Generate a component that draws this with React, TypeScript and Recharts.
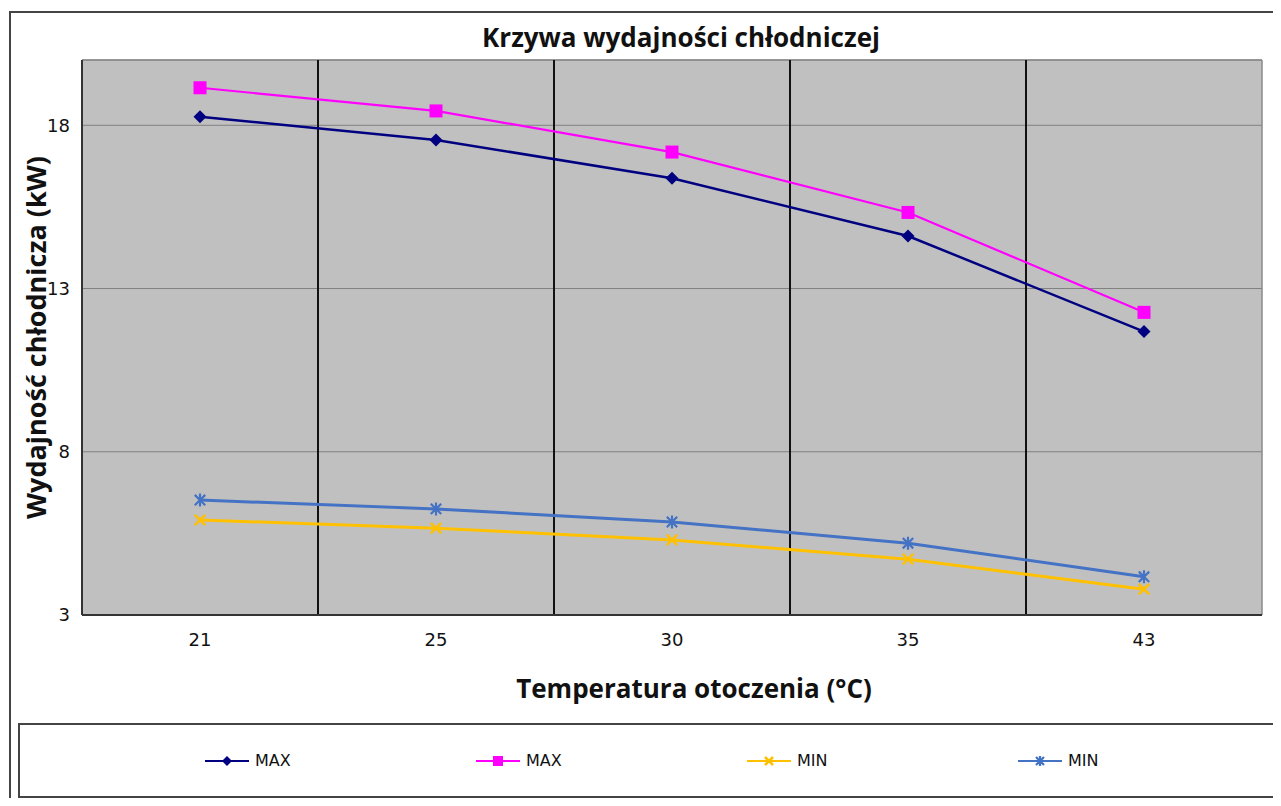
import React from 'react';
import { LineChart, Line, XAxis, YAxis, CartesianGrid, ReferenceLine } from 'recharts';

const categories = ['21', '25', '30', '35', '43'];
const maxNavy = [18.26, 17.55, 16.38, 14.61, 11.68];
const maxPink = [19.15, 18.44, 17.18, 15.33, 12.27];
const minYellow = [5.91, 5.66, 5.3, 4.71, 3.79];
const minBlue = [6.52, 6.25, 5.85, 5.2, 4.17];
const yTicks = [3, 8, 13, 18];
const yMin = 3;
const yMax = 20;

const titleText = 'Krzywa wydajności chłodniczej';
const xTitleText = 'Temperatura otoczenia (°C)';
const yTitleText = 'Wydajność chłodnicza (kW)';

type MarkerType = 'diamond' | 'square' | 'x' | 'star';

const series: { key: string; name: string; color: string; values: number[]; marker: MarkerType; width: number }[] = [
  { key: 'maxNavy', name: 'MAX', color: '#000080', values: maxNavy, marker: 'diamond', width: 2.5 },
  { key: 'maxPink', name: 'MAX', color: '#FF00FF', values: maxPink, marker: 'square', width: 2.2 },
  { key: 'minYellow', name: 'MIN', color: '#FFC000', values: minYellow, marker: 'x', width: 3 },
  { key: 'minBlue', name: 'MIN', color: '#4472C4', values: minBlue, marker: 'star', width: 3 },
];

const data = categories.map((c, k) => {
  const row: Record<string, number | string> = { i: k + 1, label: c };
  series.forEach((s) => {
    row[s.key] = s.values[k];
  });
  return row;
});

const boundaries = categories.slice(1).map((_, k) => k + 1.5);

function Marker({ type, cx, cy, color, r }: { type: MarkerType; cx: number; cy: number; color: string; r: number }) {
  if (type === 'diamond') {
    return <path d={`M${cx},${cy - r}L${cx + r},${cy}L${cx},${cy + r}L${cx - r},${cy}Z`} fill={color} />;
  }
  if (type === 'square') {
    return <rect x={cx - r} y={cy - r} width={2 * r} height={2 * r} fill={color} />;
  }
  if (type === 'x') {
    const a = r * 0.8;
    return (
      <path
        d={`M${cx - a},${cy - a}L${cx + a},${cy + a}M${cx - a},${cy + a}L${cx + a},${cy - a}`}
        stroke={color}
        strokeWidth={2.5}
        fill="none"
      />
    );
  }
  const a = r * 0.8;
  return (
    <path
      d={`M${cx - a},${cy - a}L${cx + a},${cy + a}M${cx - a},${cy + a}L${cx + a},${cy - a}M${cx},${cy - r}L${cx},${cy + r}`}
      stroke={color}
      strokeWidth={2.2}
      fill="none"
    />
  );
}

const tickStyle = { fill: '#111', fontSize: 18, fontFamily: 'DejaVu Sans' };
const titleFont = "'Open Sans', 'Noto Sans', sans-serif";

export default function App() {
  return (
    <div style={{ position: 'relative', width: 1265, height: 790 }}>
      <style>{'html{overflow:hidden;}'}</style>
      <div
        style={{
          position: 'absolute',
          left: 1,
          top: 3,
          width: 1272,
          height: 795,
          borderTop: '2px solid #444',
          borderLeft: '2px solid #444',
          boxSizing: 'border-box',
        }}
      />
      <div
        style={{
          position: 'absolute',
          left: 373,
          top: 16,
          width: 600,
          textAlign: 'center',
          fontFamily: titleFont,
          fontWeight: 700,
          fontSize: 26,
          lineHeight: 1,
          color: '#111',
          whiteSpace: 'nowrap',
        }}
      >
        {titleText}
      </div>
      <div style={{ position: 'absolute', left: 0, top: 0 }}>
        <LineChart width={1273} height={798} data={data} margin={{ top: 52, right: 19, bottom: 151, left: 0 }}>
          <CartesianGrid vertical={false} stroke="#808080" fill="#C0C0C0" fillOpacity={1} />
          <ReferenceLine y={yMax} stroke="#8a8a8a" strokeWidth={1.5} />
          <ReferenceLine x={categories.length + 0.5} stroke="#8a8a8a" strokeWidth={1.5} />
          {boundaries.map((b) => (
            <ReferenceLine key={b} x={b} stroke="#111" strokeWidth={2} />
          ))}
          <XAxis
            type="number"
            dataKey="i"
            domain={[0.5, categories.length + 0.5]}
            ticks={categories.map((_, k) => k + 1)}
            tickFormatter={(v: number) => categories[v - 1]}
            interval={0}
            height={40}
            tickLine={false}
            tickMargin={12}
            axisLine={{ stroke: '#333', strokeWidth: 2 }}
            tick={tickStyle}
          />
          <YAxis
            type="number"
            domain={[yMin, yMax]}
            ticks={yTicks}
            interval={0}
            width={74}
            tickLine={false}
            tickMargin={6}
            axisLine={{ stroke: '#333', strokeWidth: 2 }}
            tick={tickStyle}
          />
          {series.map((s) => (
            <Line
              key={s.key}
              type="linear"
              dataKey={s.key}
              name={s.name}
              stroke={s.color}
              strokeWidth={s.width}
              isAnimationActive={false}
              activeDot={false}
              dot={(p: any) => (
                <Marker
                  key={`${s.key}-${p.index}`}
                  type={s.marker}
                  cx={p.cx}
                  cy={p.cy}
                  color={s.color}
                  r={6.5}
                />
              )}
            />
          ))}
        </LineChart>
      </div>
      <div
        style={{
          position: 'absolute',
          left: 350,
          top: 667,
          width: 672,
          textAlign: 'center',
          fontFamily: titleFont,
          fontWeight: 700,
          fontSize: 26,
          lineHeight: 1,
          color: '#111',
          whiteSpace: 'nowrap',
        }}
      >
        {xTitleText}
      </div>
      <div
        style={{
          position: 'absolute',
          left: 27 - 250,
          top: 329 - 13,
          width: 500,
          textAlign: 'center',
          fontFamily: titleFont,
          fontWeight: 700,
          fontSize: 27,
          lineHeight: 1,
          color: '#111',
          whiteSpace: 'nowrap',
          transform: 'rotate(-90deg)',
        }}
      >
        {yTitleText}
      </div>
      <div
        style={{
          position: 'absolute',
          left: 10,
          top: 715,
          width: 1259,
          height: 75,
          border: '2px solid #444',
          boxSizing: 'border-box',
          display: 'flex',
          alignItems: 'center',
          paddingLeft: 185,
        }}
      >
        {series.map((s) => (
          <div key={s.key} style={{ width: 271, display: 'flex', alignItems: 'center', flex: 'none' }}>
            <svg width={44} height={14} style={{ display: 'block' }}>
              <line x1={0} y1={7} x2={44} y2={7} stroke={s.color} strokeWidth={2} />
              <Marker type={s.marker} cx={22} cy={7} color={s.color} r={5} />
            </svg>
            <span
              style={{
                marginLeft: 6,
                fontFamily: 'DejaVu Sans',
                fontSize: 16,
                color: '#111',
                lineHeight: 1,
              }}
            >
              {s.name}
            </span>
          </div>
        ))}
      </div>
    </div>
  );
}
